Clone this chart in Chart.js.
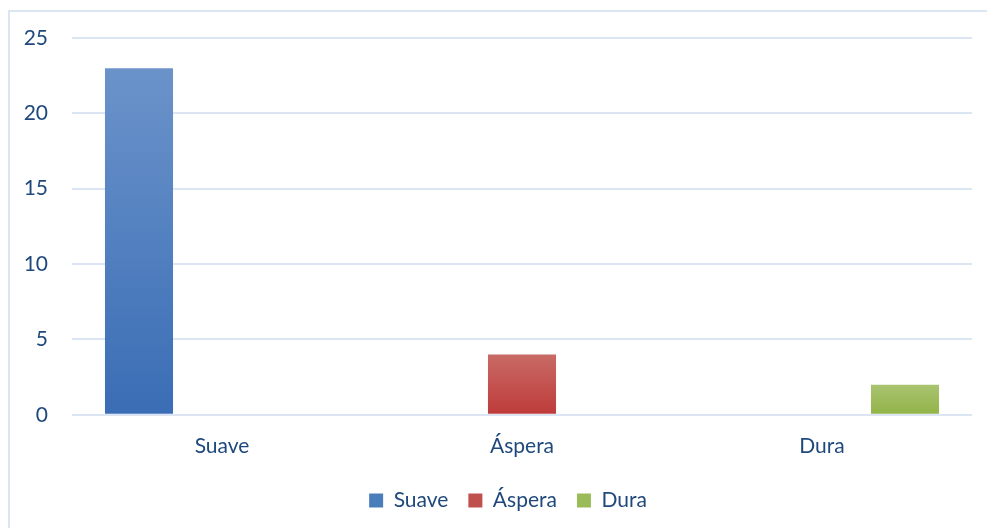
<!DOCTYPE html>
<html>
<head>
<meta charset="utf-8">
<script src="https://cdn.jsdelivr.net/npm/chart.js@4"></script>
<style>
  body { margin: 0; background: #fff; }
  .wrap { position: relative; width: 987px; height: 528px; }
  .marco { position: absolute; left: 8px; top: 10px; width: 990px; height: 530px;
           border: 2px solid #dbe5f3; box-sizing: border-box; pointer-events: none; }
</style>
</head>
<body>
<div class="wrap">
  <canvas id="grafico" width="987" height="528"></canvas>
  <div class="marco"></div>
</div>
<script>
const categorias = ['Suave', 'Áspera', 'Dura'];
const valoresSuave = [23, null, null];
const valoresAspera = [null, 4, null];
const valoresDura = [null, null, 2];
const ticksY = [0, 5, 10, 15, 20, 25];

const corTexto = '#1f497d';
const fonte = { family: 'Lato', size: 21 };

// gradiente por barra, do topo (claro) para a base (escuro)
function gradiente(topo, base, solida) {
  return function (ctx) {
    const chart = ctx.chart;
    if (ctx.type !== 'data' || !chart.chartArea) return solida;
    const v = ctx.raw;
    if (v == null) return solida;
    const y = chart.scales.y;
    const y0 = y.getPixelForValue(v);
    const y1 = y.getPixelForValue(0);
    const g = chart.ctx.createLinearGradient(0, y0, 0, y1);
    g.addColorStop(0, topo);
    g.addColorStop(1, base);
    return g;
  };
}

const solidas = ['#4a7ebb', '#c0504d', '#9bbb59'];

// legenda um pouco deslocada para a direita, como no original
const moverLegenda = {
  id: 'moverLegenda',
  afterLayout(chart) {
    if (chart.legend) { chart.legend.left += 22; chart.legend.right += 22; }
  }
};

new Chart(document.getElementById('grafico'), {
  type: 'bar',
  data: {
    labels: categorias,
    datasets: [
      { label: 'Suave', data: valoresSuave, backgroundColor: gradiente('#6b93ca', '#3a6db5', solidas[0]) },
      { label: 'Áspera', data: valoresAspera, backgroundColor: gradiente('#c96a66', '#bd3b39', solidas[1]) },
      { label: 'Dura', data: valoresDura, backgroundColor: gradiente('#a9c470', '#92b348', solidas[2]) }
    ]
  },
  plugins: [moverLegenda],
  options: {
    responsive: false,
    animation: false,
    devicePixelRatio: 1,
    categoryPercentage: 0.83,
    barPercentage: 0.82,
    layout: { padding: { top: 38, right: 15, bottom: 7, left: 0 } },
    plugins: {
      title: { display: false },
      tooltip: { enabled: false },
      legend: {
        position: 'bottom',
        labels: {
          color: corTexto,
          font: fonte,
          boxWidth: 14,
          boxHeight: 14,
          padding: 20,
          generateLabels: function (chart) {
            const itens = Chart.defaults.plugins.legend.labels.generateLabels(chart);
            itens.forEach((it, i) => { it.fillStyle = solidas[i]; it.strokeStyle = solidas[i]; it.lineWidth = 0; });
            return itens;
          }
        }
      }
    },
    scales: {
      x: {
        grid: { display: false },
        border: { display: false },
        ticks: { color: corTexto, font: fonte, padding: 11 }
      },
      y: {
        min: ticksY[0],
        max: ticksY[ticksY.length - 1],
        afterFit: function (s) { s.width = 72; },
        grid: { color: '#dbe5f3', lineWidth: 2, drawTicks: false },
        border: { display: false },
        ticks: { stepSize: 5, color: corTexto, font: fonte, padding: 24 }
      }
    }
  }
});
</script>
</body>
</html>
